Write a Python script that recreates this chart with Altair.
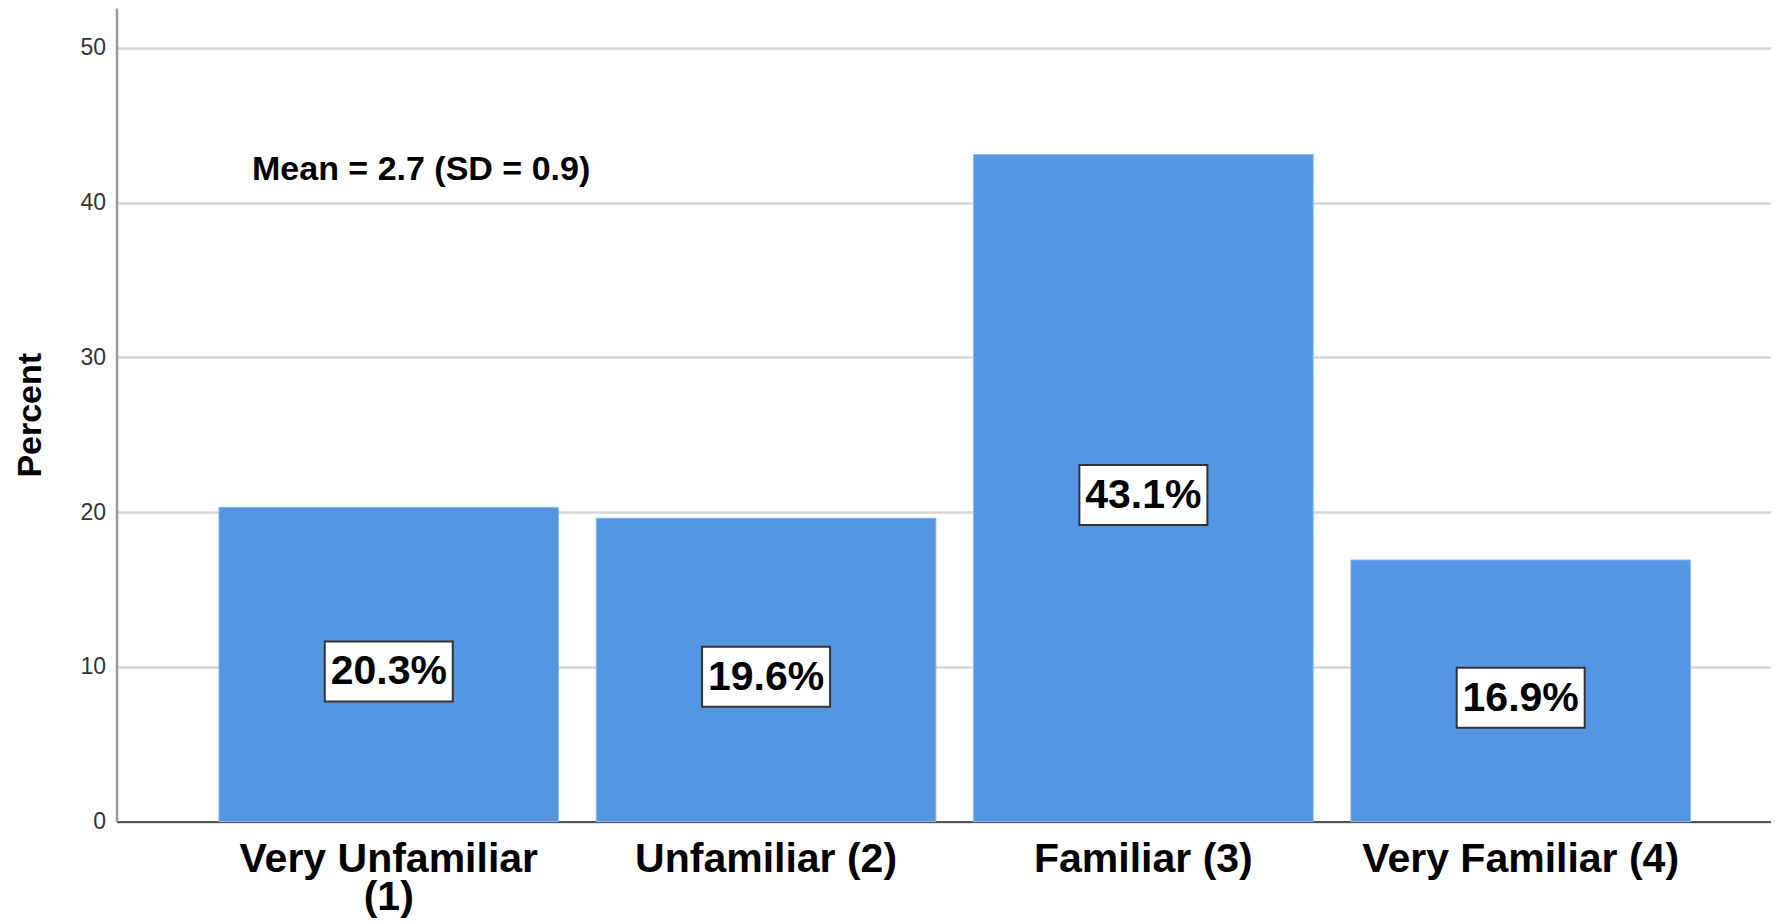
import altair as alt
import pandas as pd

categories = ["Very Unfamiliar (1)", "Unfamiliar (2)", "Familiar (3)", "Very Familiar (4)"]
percents = [20.3, 19.6, 43.1, 16.9]
label_texts = ["20.3%", "19.6%", "43.1%", "16.9%"]
y_ticks = [0, 10, 20, 30, 40, 50]
mean_text = ["Mean = 2.7 (SD = 0.9)"]

df = pd.DataFrame({"category": categories, "percent": percents, "label": label_texts})
df["mid"] = df["percent"] / 2

FONT = "Liberation Sans"
W = 1654.5
H = 813.5

xscale = alt.Scale(domain=categories, paddingInner=0.1, paddingOuter=0.2425, align=0.56)
yscale = alt.Scale(domain=[0, 52.57], nice=False, zero=True)

x_axis = alt.Axis(
    title=None, ticks=False, tickSize=0, labelAngle=0,
    labelFont=FONT, labelFontSize=41, labelFontWeight="bold", labelColor="#000000",
    labelPadding=18, labelLineHeight=38, labelLimit=1000, labelOverlap=False,
    domainColor="#555555", domainWidth=2, grid=False,
    labelExpr="datum.label == 'Very Unfamiliar (1)' ? ['Very Unfamiliar', '(1)'] : datum.label",
)
y_axis = alt.Axis(
    title="Percent", values=y_ticks, ticks=False, tickSize=0,
    labelFont=FONT, labelFontSize=23, labelColor="#333333", labelPadding=11,
    domainColor="#9a9a9a", domainWidth=2.5,
    grid=True, gridColor="#d6d6d6", gridWidth=2.5,
    titleFont=FONT, titleFontSize=34, titleFontWeight="bold", titleColor="#000000",
    titleAngle=270, titleX=-86.5, titleY=H / 2, titleAlign="center", titleBaseline="middle",
)

X = alt.X("category:N", sort=categories, scale=xscale, axis=x_axis, title=None)

base = alt.Chart(df)

bars = base.mark_bar(color="#5596E3", stroke="#8ab8ee", strokeWidth=1).encode(
    x=X,
    y=alt.Y("percent:Q", scale=yscale, axis=y_axis, title="Percent"),
)

box_path = "M-1,-0.469 L1,-0.469 L1,0.469 L-1,0.469 Z"
boxes = base.mark_point(
    shape=box_path, size=128 * 128, filled=True, fill="white", opacity=1,
    stroke="#333333", strokeWidth=2, yOffset=7,
).encode(
    x=X,
    y=alt.Y("mid:Q", scale=yscale, axis=y_axis, title="Percent"),
)

labels = base.mark_text(
    font=FONT, fontSize=41, fontWeight="bold", color="#000000",
    align="center", baseline="middle", dy=8,
).encode(
    x=X,
    y=alt.Y("mid:Q", scale=yscale, axis=y_axis, title="Percent"),
    text="label:N",
)

mean = alt.Chart(pd.DataFrame({"t": mean_text})).mark_text(
    font=FONT, fontSize=34, fontWeight="bold", color="#000000",
    align="left", baseline="middle",
).encode(
    x=alt.value(135.5),
    y=alt.value(161.5),
    text="t:N",
)

chart = alt.layer(bars, boxes, labels, mean).properties(
    width=W, height=H,
    padding={"left": 108.5, "top": 0, "right": 0, "bottom": 100},
    autosize=alt.AutoSizeParams(type="none"),
    background="white",
).configure_view(stroke=None)

chart.save("out.html", embed_options={"renderer": "svg", "actions": False})
